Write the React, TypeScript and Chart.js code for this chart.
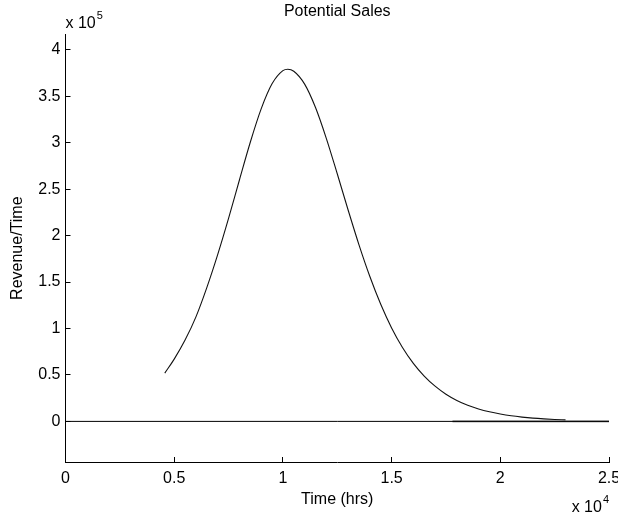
import React, { useEffect, useRef } from "react";
import { Chart, registerables } from "chart.js";

Chart.register(...registerables);

// Time (hrs)
const timeHrs = [
  4567, 5000, 5500, 6000, 6500, 7000, 7500, 8000, 8500, 9000, 9500, 10000, 10224,
  10500, 11000, 11500, 12000, 12500, 13000, 13500, 14000, 14500, 15000, 15500,
  16000, 16500, 17000, 17500, 18000, 18500, 19000, 19500, 20000, 20500, 21000,
  21500, 22000, 22500, 23000,
];
// Revenue/Time
const revenue = [
  52000, 67000, 87500, 112500, 144000, 179500, 218500, 259800, 300400, 336300, 363300, 377500, 379000,
  376900, 363000, 337800, 304400, 266500, 227500, 190000, 155900, 126000, 100600, 79600,
  62500, 48800, 37900, 29300, 22600, 17400, 13400, 10300, 7900, 6000, 4600,
  3500, 2700, 2100, 1600,
];
const zeroLineX = [0, 25000];
const zeroTailX = [17800, 25000];

const xTicks = [0, 5000, 10000, 15000, 20000, 25000];
const yTicks = [0, 50000, 100000, 150000, 200000, 250000, 300000, 350000, 400000];
const xMin = 0;
const xMax = 25000;
const yMin = -43700;
const yMax = 416600;

const FONT = "'Liberation Sans', Arial, Helvetica, sans-serif";

const exponentPlugin = {
  id: "exponentLabels",
  afterDraw(chart: any) {
    const ctx = chart.ctx;
    const area = chart.chartArea;
    ctx.save();
    ctx.fillStyle = "#000";
    ctx.textBaseline = "alphabetic";
    ctx.textAlign = "left";
    // y exponent
    ctx.font = `16px ${FONT}`;
    const yx = area.left;
    ctx.fillText("x 10", yx, 28);
    const w1 = ctx.measureText("x 10").width;
    ctx.font = `11px ${FONT}`;
    ctx.fillText("5", yx + w1 + 1, 19);
    // x exponent
    ctx.font = `16px ${FONT}`;
    const w2 = ctx.measureText("x 10").width;
    ctx.font = `11px ${FONT}`;
    const w3 = ctx.measureText("4").width;
    const xx = area.right - w2 - w3 - 1;
    ctx.font = `16px ${FONT}`;
    ctx.fillText("x 10", xx, 512);
    ctx.font = `11px ${FONT}`;
    ctx.fillText("4", xx + w2 + 1, 503);
    ctx.restore();
  },
};

export default function App() {
  const ref = useRef<HTMLCanvasElement | null>(null);
  useEffect(() => {
    if (!ref.current) return;
    const chart = new Chart(ref.current, {
      type: "line",
      data: {
        datasets: [
          {
            label: "Zero",
            data: zeroLineX.map((x) => ({ x, y: 0 })),
            borderColor: "#000",
            borderWidth: 1,
            pointRadius: 0,
          },
          {
            label: "Zero tail",
            data: zeroTailX.map((x) => ({ x, y: 0 })),
            borderColor: "#5a5a5a",
            borderWidth: 1.6,
            pointRadius: 0,
          },
          {
            label: "Potential Sales",
            data: timeHrs.map((x, i) => ({ x, y: revenue[i] })),
            borderColor: "#111",
            borderWidth: 1.1,
            pointRadius: 0,
            cubicInterpolationMode: "monotone",
          },
        ],
      },
      options: {
        animation: false,
        responsive: false,
        layout: { padding: { left: 0, right: 9, top: 0, bottom: 0 } },
        plugins: {
          legend: { display: false },
          tooltip: { enabled: false },
          title: {
            display: true,
            text: "Potential Sales",
            fullSize: false,
            color: "#000",
            font: { family: FONT, size: 16, weight: "normal" },
            padding: { top: 2.4, bottom: 12.7 },
          },
        },
        scales: {
          x: {
            type: "linear",
            min: xMin,
            max: xMax,
            afterBuildTicks: (scale: any) => {
              scale.ticks = xTicks.map((v) => ({ value: v }));
            },
            afterFit: (scale: any) => {
              scale.height = 54;
              scale.paddingLeft = 0;
              scale.paddingRight = 0;
            },
            grid: {
              drawOnChartArea: false,
              drawTicks: true,
              tickLength: -5,
              color: "#000",
            },
            border: { display: true, color: "#000", width: 1 },
            ticks: {
              color: "#000",
              font: { family: FONT, size: 16 },
              padding: 12,
              maxRotation: 0,
              autoSkip: false,
              callback: (v: any) => String(Number(v) / 1e4),
            },
            title: {
              display: true,
              text: "Time (hrs)",
              color: "#000",
              font: { family: FONT, size: 16 },
              padding: { top: 0, bottom: 6.9 },
            },
          },
          y: {
            type: "linear",
            min: yMin,
            max: yMax,
            afterBuildTicks: (scale: any) => {
              scale.ticks = yTicks.map((v) => ({ value: v }));
            },
            afterFit: (scale: any) => {
              scale.width = 65.5;
              scale.paddingTop = 0;
              scale.paddingBottom = 0;
            },
            grid: {
              drawOnChartArea: false,
              drawTicks: true,
              tickLength: -5,
              color: "#000",
            },
            border: { display: true, color: "#000", width: 1 },
            ticks: {
              color: "#000",
              font: { family: FONT, size: 16 },
              padding: 10,
              autoSkip: false,
              callback: (v: any) => String(Number(v) / 1e5),
            },
            title: {
              display: true,
              text: "Revenue/Time",
              color: "#000",
              font: { family: FONT, size: 16 },
              padding: { top: 8.4, bottom: 0 },
            },
          },
        },
      } as any,
      plugins: [exponentPlugin],
    });
    return () => chart.destroy();
  }, []);
  return (
    <div style={{ position: "absolute", left: 0, top: 0, width: 618, height: 516, background: "#fff" }}>
      <canvas ref={ref} width={618} height={516} style={{ display: "block" }} />
    </div>
  );
}
